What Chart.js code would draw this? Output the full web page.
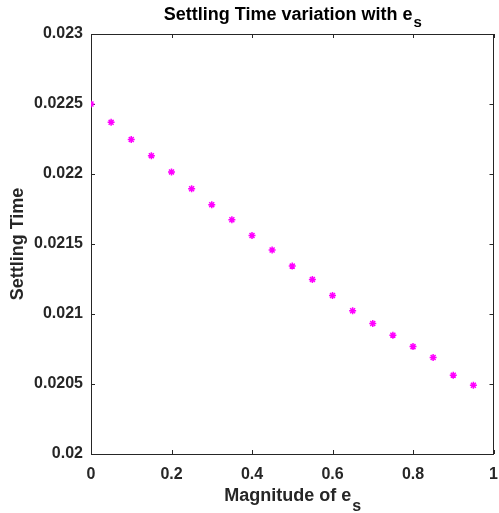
<!DOCTYPE html>
<html>
<head>
<meta charset="utf-8">
<script src="https://cdn.jsdelivr.net/npm/chart.js@4"></script>
<style>
  body { margin: 0; background: #fff; }
  canvas { display: block; }
</style>
</head>
<body>
<canvas id="settlingChart" width="499" height="513"></canvas>
<script>
const esValues = [0, 0.05, 0.1, 0.15, 0.2, 0.25, 0.3, 0.35, 0.4, 0.45,
                  0.5, 0.55, 0.6, 0.65, 0.7, 0.75, 0.8, 0.85, 0.9, 0.95];
const settlingTimes = [0.02250, 0.022369, 0.022246, 0.022131, 0.022015, 0.021895, 0.021781, 0.021673, 0.021561, 0.021457,
                       0.021342, 0.021247, 0.021132, 0.021023, 0.020932, 0.020849, 0.020767, 0.020689, 0.020563, 0.020491];
const xTickValues = [0, 0.2, 0.4, 0.6, 0.8, 1];
const xTickLabels = ['0', '0.2', '0.4', '0.6', '0.8', '1'];
const yTickValues = [0.02, 0.0205, 0.021, 0.0215, 0.022, 0.0225, 0.023];
const yTickLabels = ['0.02', '0.0205', '0.021', '0.0215', '0.022', '0.0225', '0.023'];

const axisColor = '#262626';
const fontFamily = '"Liberation Sans", Arial, sans-serif';

// title and x label need a subscript, so draw them by hand; also the box and inward ticks
const matlabAxes = {
    id: 'matlabAxes',
    beforeDatasetsDraw(chart) {
        const { ctx, chartArea: a, scales } = chart;
        ctx.save();
        ctx.strokeStyle = axisColor;
        ctx.lineWidth = 1;
        ctx.strokeRect(Math.round(a.left) + 0.5, Math.round(a.top) + 0.5,
                       Math.round(a.right - a.left) - 1, Math.round(a.bottom - a.top));
        ctx.beginPath();
        const tl = 4;
        scales.x.ticks.forEach(t => {
            const px = Math.round(scales.x.getPixelForValue(t.value)) + 0.5;
            ctx.moveTo(px, a.bottom); ctx.lineTo(px, a.bottom - tl);
            ctx.moveTo(px, a.top); ctx.lineTo(px, a.top + tl);
        });
        scales.y.ticks.forEach(t => {
            const py = Math.round(scales.y.getPixelForValue(t.value)) + 0.5;
            ctx.moveTo(a.left, py); ctx.lineTo(a.left + tl, py);
            ctx.moveTo(a.right, py); ctx.lineTo(a.right - tl, py);
        });
        ctx.stroke();
        ctx.restore();
    },
    afterDraw(chart) {
        const { ctx, chartArea: a } = chart;
        const cx = (a.left + a.right) / 2;
        drawSubText(ctx, 'Settling Time variation with e', 's', cx, 20, 18, 15, 7, '#000');
        drawSubText(ctx, 'Magnitude of e', 's', cx, 501, 18, 16, 10, axisColor);
    }
};

function drawSubText(ctx, main, sub, cx, baseline, size, subSize, drop, color) {
    ctx.save();
    ctx.fillStyle = color;
    ctx.textBaseline = 'alphabetic';
    ctx.textAlign = 'left';
    ctx.font = `bold ${size}px ${fontFamily}`;
    const w1 = ctx.measureText(main).width;
    ctx.font = `bold ${subSize}px ${fontFamily}`;
    const w2 = ctx.measureText(sub).width;
    const x0 = cx - (w1 + w2) / 2;
    ctx.font = `bold ${size}px ${fontFamily}`;
    ctx.fillText(main, x0, baseline);
    ctx.font = `bold ${subSize}px ${fontFamily}`;
    ctx.fillText(sub, x0 + w1 + 1, baseline + drop);
    ctx.restore();
}

const ctx = document.getElementById('settlingChart').getContext('2d');
const settlingChart = new Chart(ctx, {
    type: 'scatter',
    data: {
        datasets: [{
            label: 'Settling Time',
            data: esValues.map((x, i) => ({ x: x, y: settlingTimes[i] })),
            pointStyle: 'star',
            radius: 3.5,
            borderColor: '#ff00ff',
            backgroundColor: '#ff00ff',
            borderWidth: 1.5
        }]
    },
    options: {
        responsive: false,
        animation: false,
        layout: { padding: { top: 34, right: 1, left: 0, bottom: 0 } },
        plugins: {
            legend: { display: false },
            tooltip: { enabled: false }
        },
        scales: {
            x: {
                type: 'linear',
                min: 0,
                max: 1,
                afterBuildTicks: s => { s.ticks = xTickValues.map(v => ({ value: v })); },
                afterFit: s => { s.height = 59; s.paddingLeft = 0; s.paddingRight = 0; },
                grid: { display: false, drawTicks: false, tickLength: 0 },
                border: { display: false },
                ticks: {
                    color: axisColor,
                    padding: 11,
                    maxRotation: 0,
                    font: { family: fontFamily, size: 16, weight: 'bold' },
                    callback: (v, i) => xTickLabels[i]
                }
            },
            y: {
                type: 'linear',
                min: 0.02,
                max: 0.023,
                afterBuildTicks: s => { s.ticks = yTickValues.map(v => ({ value: v })); },
                afterFit: s => { s.width = 91; s.paddingTop = 0; s.paddingBottom = 0; },
                grid: { display: false, drawTicks: false, tickLength: 0 },
                border: { display: false },
                title: {
                    display: true,
                    text: 'Settling Time',
                    color: axisColor,
                    padding: { top: 7, bottom: 0 },
                    font: { family: fontFamily, size: 18, weight: 'bold' }
                },
                ticks: {
                    color: axisColor,
                    padding: 8,
                    font: { family: fontFamily, size: 16, weight: 'bold' },
                    callback: (v, i) => yTickLabels[i]
                }
            }
        }
    },
    plugins: [matlabAxes]
});
</script>
</body>
</html>
